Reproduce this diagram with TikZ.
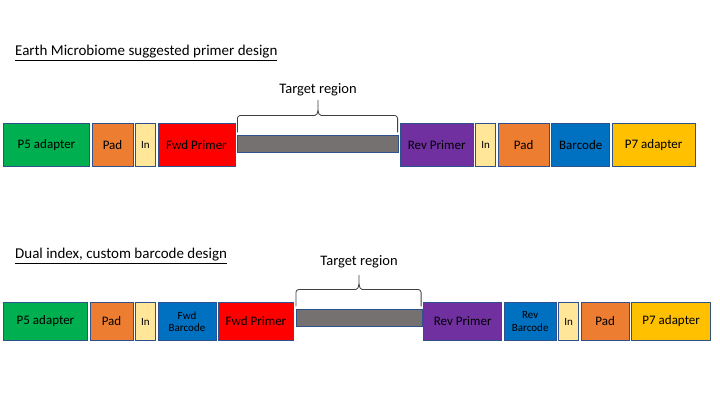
\documentclass[tikz,border=0pt]{standalone}
\usepackage{fontspec}
\setmainfont{Carlito}
\usetikzlibrary{positioning}
\definecolor{segedge}{HTML}{2F528F}
\definecolor{adaptfive}{HTML}{00B050}
\definecolor{padorange}{HTML}{ED7D31}
\definecolor{linkyellow}{HTML}{FFE699}
\definecolor{primerred}{HTML}{FF0000}
\definecolor{targetgray}{HTML}{767171}
\definecolor{primerpurple}{HTML}{7030A0}
\definecolor{barcodeblue}{HTML}{0070C0}
\definecolor{adaptseven}{HTML}{FFC000}
\begin{document}
\begin{tikzpicture}[
  x=1pt, y=-1pt,
  node distance=2.3pt,
  seg/.style={draw=segedge, line width=0.8pt, align=center, inner sep=0pt, outer sep=0pt,
              minimum height=43.2pt, font=\fontsize{13}{14}\selectfont},
  segsmall/.style={seg, font=\fontsize{11}{12.5}\selectfont},
  target/.style={seg, fill=targetgray, minimum height=17.2pt},
  bracket/.style={draw=black!75, line width=0.8pt, rounded corners=3pt},
  heading/.style={anchor=west, inner sep=0pt, font=\fontsize{15}{17}\selectfont},
  regionlabel/.style={inner sep=0pt, font=\fontsize{14.5}{16}\selectfont}
]
\useasboundingbox (0,0) rectangle (720,405);

% Earth Microbiome design
\node[heading] (titleA) at (15,53) {\underline{Earth Microbiome suggested primer design}};
\node[seg, fill=adaptfive, minimum width=86.2pt, anchor=west] (p5A) at (3.4,145) {P5 adapter};
\node[seg, fill=padorange, minimum width=41.2pt, right=of p5A] (padA) {Pad};
\node[segsmall, fill=linkyellow, minimum width=20.2pt, right=of padA] (inA) {In};
\node[seg, fill=primerred, minimum width=77.2pt, right=of inA] (fwdA) {Fwd Primer};
\node[target, minimum width=161.2pt, right=of fwdA, yshift=1pt] (barA) {};
\node[seg, fill=primerpurple, minimum width=73.2pt, anchor=west, xshift=1.5pt] (revA) at (barA.east |- fwdA.east) {Rev Primer};
\node[segsmall, fill=linkyellow, minimum width=20.2pt, right=of revA] (inA2) {In};
\node[seg, fill=padorange, minimum width=51.2pt, right=of inA2] (padA2) {Pad};
\node[seg, fill=barcodeblue, minimum width=58.2pt, right=of padA2] (bcA) {Barcode};
\node[seg, fill=adaptseven, minimum width=83.2pt, right=of bcA] (p7A) {P7 adapter};

\coordinate (tipA) at ([yshift=37pt]barA.north);
\draw[bracket] ([yshift=3pt]barA.north west) |- ([xshift=-6pt,yshift=20pt]barA.north)
  to[out=0,in=-90] (tipA) to[out=-90,in=180] ([xshift=6pt,yshift=20pt]barA.north)
  -| ([xshift=-1pt,yshift=3pt]barA.north east);
\node[regionlabel] (targetA) at ([yshift=9pt]tipA) {Target region};

% Dual index design
\node[heading] (titleB) at (15,256) {\underline{Dual index, custom barcode design}};
\node[seg, fill=adaptfive, minimum width=84.2pt, minimum height=38.2pt, anchor=west] (p5B) at (3.4,321.5) {P5 adapter};
\node[seg, fill=padorange, minimum width=43.2pt, minimum height=38.2pt, right=of p5B] (padB) {Pad};
\node[segsmall, fill=linkyellow, minimum width=20.2pt, minimum height=38.2pt, right=of padB] (inB) {In};
\node[segsmall, fill=barcodeblue, minimum width=58.2pt, minimum height=38.2pt, right=of inB] (fbcB) {Fwd\\Barcode};
\node[seg, fill=primerred, minimum width=75.2pt, minimum height=38.2pt, right=of fbcB] (fwdB) {Fwd Primer};
\node[target, minimum width=126.2pt, right=of fwdB, yshift=3.5pt] (barB) {};
\node[seg, fill=primerpurple, minimum width=78.2pt, minimum height=38.2pt, anchor=west, xshift=1.5pt] (revB) at (barB.east |- fwdB.east) {Rev Primer};
\node[segsmall, fill=barcodeblue, minimum width=52.2pt, minimum height=38.2pt, right=of revB] (rbcB) {Rev\\Barcode};
\node[segsmall, fill=linkyellow, minimum width=20.2pt, minimum height=38.2pt, right=of rbcB] (inB2) {In};
\node[seg, fill=padorange, minimum width=48.2pt, minimum height=38.2pt, right=of inB2] (padB2) {Pad};
\node[seg, fill=adaptseven, minimum width=79.2pt, minimum height=38.2pt, right=of padB2] (p7B) {P7 adapter};

\coordinate (tipB) at ([yshift=36pt]barB.north);
\draw[bracket] ([yshift=3pt]barB.north west) |- ([xshift=-6pt,yshift=20pt]barB.north)
  to[out=0,in=-90] (tipB) to[out=-90,in=180] ([xshift=6pt,yshift=20pt]barB.north)
  -| ([xshift=-1pt,yshift=3pt]barB.north east);
\node[regionlabel] (targetB) at ([yshift=12pt]tipB) {Target region};
\end{tikzpicture}
\end{document}
